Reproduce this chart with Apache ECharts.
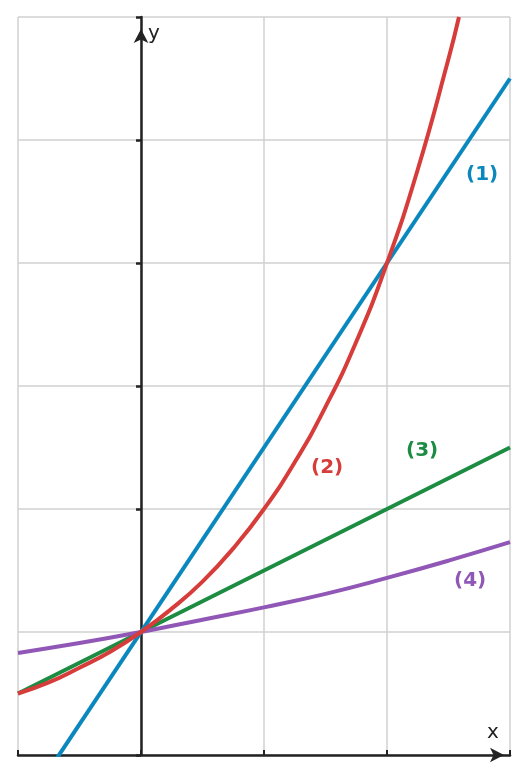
<!DOCTYPE html>
<html><head><meta charset="utf-8">
<script src="https://cdn.jsdelivr.net/npm/echarts@6/dist/echarts.min.js"></script>
<style>html,body{margin:0;padding:0;background:#fff}#c{width:527px;height:778px}</style>
</head><body><div id="c"></div>
<script>
const line1 = [[-1,-0.5],[3,5.5]];
const line3 = [[-1,0.5],[3,2.5]];
const curve2 = [[-1,0.5],[-0.75,0.59],[-0.5,0.71],[-0.25,0.84],[0,1],[0.25,1.19],[0.5,1.41],[0.75,1.68],[1,2],[1.25,2.38],[1.5,2.83],[1.75,3.36],[2,4],[2.25,4.76],[2.5,5.66],[2.585,6]];
const curve4 = [[-1,0.83],[-0.5,0.91],[0,1],[0.5,1.1],[1,1.2],[1.5,1.31],[2,1.44],[2.5,1.58],[3,1.73]];
const labels = ['(1)','(2)','(3)','(4)'];
const colors = ['#0a87bd','#d63d3a','#1c8c42','#9057b6'];
const chart = echarts.init(document.getElementById('c'));
const mk = (d,c,z)=>({type:'line',data:d,smooth:true,showSymbol:false,lineStyle:{color:c,width:4},z:z,clip:true});
chart.setOption({
  animation:false,
  grid:{left:18,right:17,top:17,bottom:23},
  xAxis:{type:'value',min:-1,max:3,interval:1,axisLabel:{show:false},
    splitLine:{lineStyle:{color:'#d0d0d0',width:1.5}},
    axisLine:{onZero:true,lineStyle:{color:'#222',width:2.5},symbol:['none','arrow'],symbolSize:[11,14],symbolOffset:[0,-6]},
    axisTick:{show:true,inside:true,length:5,lineStyle:{color:'#222',width:2}}},
  yAxis:{type:'value',min:0,max:6,interval:1,axisLabel:{show:false},
    splitLine:{lineStyle:{color:'#d0d0d0',width:1.5}},
    axisLine:{onZero:true,lineStyle:{color:'#222',width:2.5},symbol:['none','arrow'],symbolSize:[11,14],symbolOffset:[0,-12]},
    axisTick:{show:true,inside:false,length:5,lineStyle:{color:'#222',width:2.5}}},
  series:[mk(line1,colors[0],3),mk(curve2,colors[1],4),mk(line3,colors[2],3),mk(curve4,colors[3],3)],
  graphic:[
    {type:'text',left:148,top:24,style:{text:'y',fontSize:20,fill:'#222',fontFamily:'DejaVu Sans'}},
    {type:'text',left:487,top:723,style:{text:'x',fontSize:20,fill:'#222',fontFamily:'DejaVu Sans'}},
    {type:'text',left:466,top:165,style:{text:labels[0],fontSize:20,fontWeight:'bold',fill:colors[0],fontFamily:'DejaVu Sans'}},
    {type:'text',left:311,top:458,style:{text:labels[1],fontSize:20,fontWeight:'bold',fill:colors[1],fontFamily:'DejaVu Sans'}},
    {type:'text',left:406,top:441,style:{text:labels[2],fontSize:20,fontWeight:'bold',fill:colors[2],fontFamily:'DejaVu Sans'}},
    {type:'text',left:454,top:571,style:{text:labels[3],fontSize:20,fontWeight:'bold',fill:colors[3],fontFamily:'DejaVu Sans'}}
  ]
});
</script></body></html>
